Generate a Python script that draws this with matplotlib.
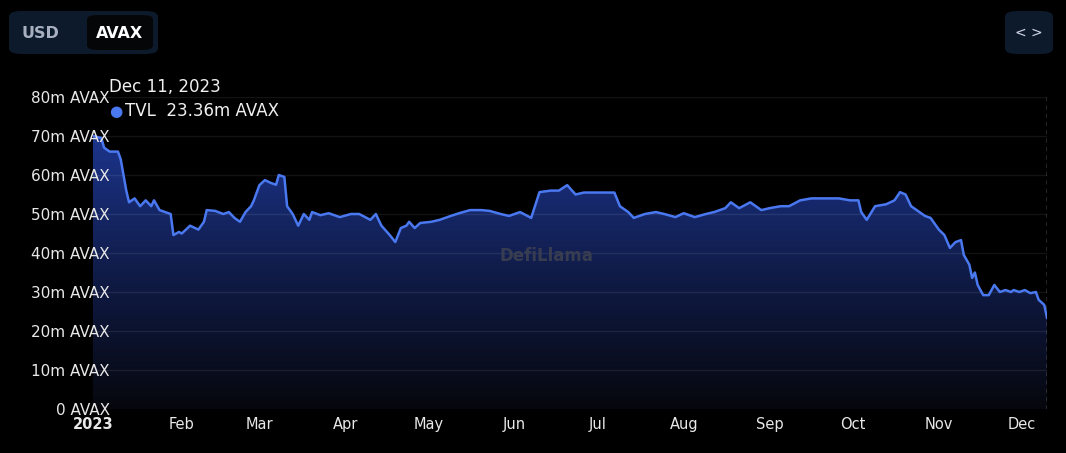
import matplotlib
matplotlib.use("Agg")
import matplotlib.pyplot as plt
import numpy as np
import pandas as pd
from matplotlib.patches import FancyBboxPatch, Polygon

days = [0,3,4,6,9,10,12,13,15,17,19,21,22,24,26,28,29,31,32,35,38,40,41,44,47,49,51,53,55,57,58,60,62,64,66,67,69,70,72,74,76,78,79,82,85,89,93,96,100,102,104,107,109,111,113,114,116,118,122,125,129,132,136,140,143,147,150,154,158,161,165,168,171,174,177,183,188,190,193,195,199,203,206,210,213,217,221,224,228,230,233,237,241,244,248,251,255,259,262,266,269,273,276,277,279,282,286,289,291,293,295,298,300,302,304,305,307,309,311,313,314,316,317,318,319,321,323,325,327,329,331,332,334,336,338,340,341,343,344]
tvl = [70,69.5,67,66,66,64,56,53,54,52,53.5,52,53.5,51,50.5,50,44.6,45.4,45,47,46,48,51,50.8,50,50.5,49,48,50.5,52,53.5,57.4,58.7,58,57.5,60,59.5,52,50,47,50,48.5,50.5,49.7,50.2,49.2,50,50,48.5,50,47,44.6,42.8,46.4,47,48,46.4,47.7,48,48.5,49.5,50.2,51,51,50.8,50,49.5,50.5,49,55.6,56,56,57.4,55,55.5,55.5,55.5,52,50.5,49,50,50.5,50,49.2,50.2,49.2,50,50.5,51.5,53,51.5,53,51,51.5,52,52,53.5,54,54,54,54,53.5,53.5,50.5,48.5,52,52.5,53.5,55.6,55,52,50.5,49.5,49,47,46,44.6,41.3,42.8,43.3,39.5,37,33.6,35,31.8,29.2,29.2,31.8,30,30.5,30,30.5,30,30.5,29.7,30,28,26.7,23.36]
dates = pd.Timestamp("2022-12-31") + pd.to_timedelta(days, unit="D")
yticks = [0,10,20,30,40,50,60,70,80]
ylabels = [f"{v}m AVAX" if v else "0 AVAX" for v in yticks]
months = ["Feb","Mar","Apr","May","Jun","Jul","Aug","Sep","Oct","Nov","Dec"]

bg = "#000000"
blue = "#4a78f0"
fig = plt.figure(figsize=(10.66, 4.53), dpi=100, facecolor=bg)
ax = fig.add_axes([93/1066, 44/453, 954/1066, 312/453])
ax.set_facecolor(bg)
x = matplotlib.dates.date2num(dates)
ax.set_xlim(x[0], x[-1])
ax.set_ylim(0, 80)

grad = np.linspace(0, 1, 256).reshape(-1, 1)
cmap = matplotlib.colors.LinearSegmentedColormap.from_list("g", ["#06070d", "#101c4a", "#1d3690"])
im = ax.imshow(grad, extent=[x[0], x[-1], 0, 72], origin="lower", aspect="auto", cmap=cmap, zorder=1)
poly = Polygon(np.column_stack([np.r_[x[0], x, x[-1]], np.r_[0, tvl, 0]]), closed=True, transform=ax.transData)
im.set_clip_path(poly)
for v in yticks[1:]:
    ax.axhline(v, color="#ffffff", alpha=0.08, lw=1, zorder=2)
ax.plot(x, tvl, color=blue, lw=1.8, zorder=3)

ax.set_yticks(yticks)
ax.set_yticklabels(ylabels)
ax.tick_params(axis="y", length=0, pad=-12, labelcolor="#e8e8e8", labelsize=11)
ax.yaxis.set_zorder(5)
mt = [x[0]] + [matplotlib.dates.date2num(pd.Timestamp(f"2023-{i+1:02d}-01")) for i in range(1, 12)]
ax.set_xticks(mt)
ax.set_xticklabels(["2023"] + months)
ax.get_xticklabels()[0].set_fontweight("bold")
ax.tick_params(axis="x", length=0, pad=6, labelcolor="#e8e8e8", labelsize=10.5)
for s in ax.spines.values():
    s.set_visible(False)
ax.axvline(x[-1], color="#bbbbbb", ls=(0, (3, 3)), lw=1, zorder=4)

ax.text(0.475, 0.49, "DefiLlama", transform=ax.transAxes, ha="center", va="center",
        color="#3c4050", fontsize=12, fontweight="bold", zorder=2, alpha=0.9)

fig.text(109/1066, 1 - 87/453, "Dec 11, 2023", color="#f0f0f0", fontsize=12, va="center")
fig.text(109/1066, 1 - 111/453, "●", color=blue, fontsize=11, va="center")
fig.text(125/1066, 1 - 111/453, "TVL  23.36m AVAX", color="#f0f0f0", fontsize=12, va="center")

fig.patches.append(FancyBboxPatch((9/1066, 1-54/453), 149/1066, 43/453, boxstyle="round,pad=0,rounding_size=0.012",
                                  transform=fig.transFigure, facecolor="#0c1a2c", edgecolor="none"))
fig.patches.append(FancyBboxPatch((87/1066, 1-50/453), 66/1066, 35/453, boxstyle="round,pad=0,rounding_size=0.01",
                                  transform=fig.transFigure, facecolor="#050608", edgecolor="none"))
fig.text(40/1066, 1-33/453, "USD", color="#a8b0c0", fontsize=11.5, fontweight="bold", ha="center", va="center")
fig.text(120/1066, 1-33/453, "AVAX", color="#ffffff", fontsize=11.5, fontweight="bold", ha="center", va="center")
fig.patches.append(FancyBboxPatch((1005/1066, 1-54/453), 48/1066, 43/453, boxstyle="round,pad=0,rounding_size=0.012",
                                  transform=fig.transFigure, facecolor="#0c1a2c", edgecolor="none"))
fig.text(1029/1066, 1-33/453, "< >", color="#d0d8e8", fontsize=10, ha="center", va="center")

fig.savefig("out.png", dpi=100, facecolor=bg)
